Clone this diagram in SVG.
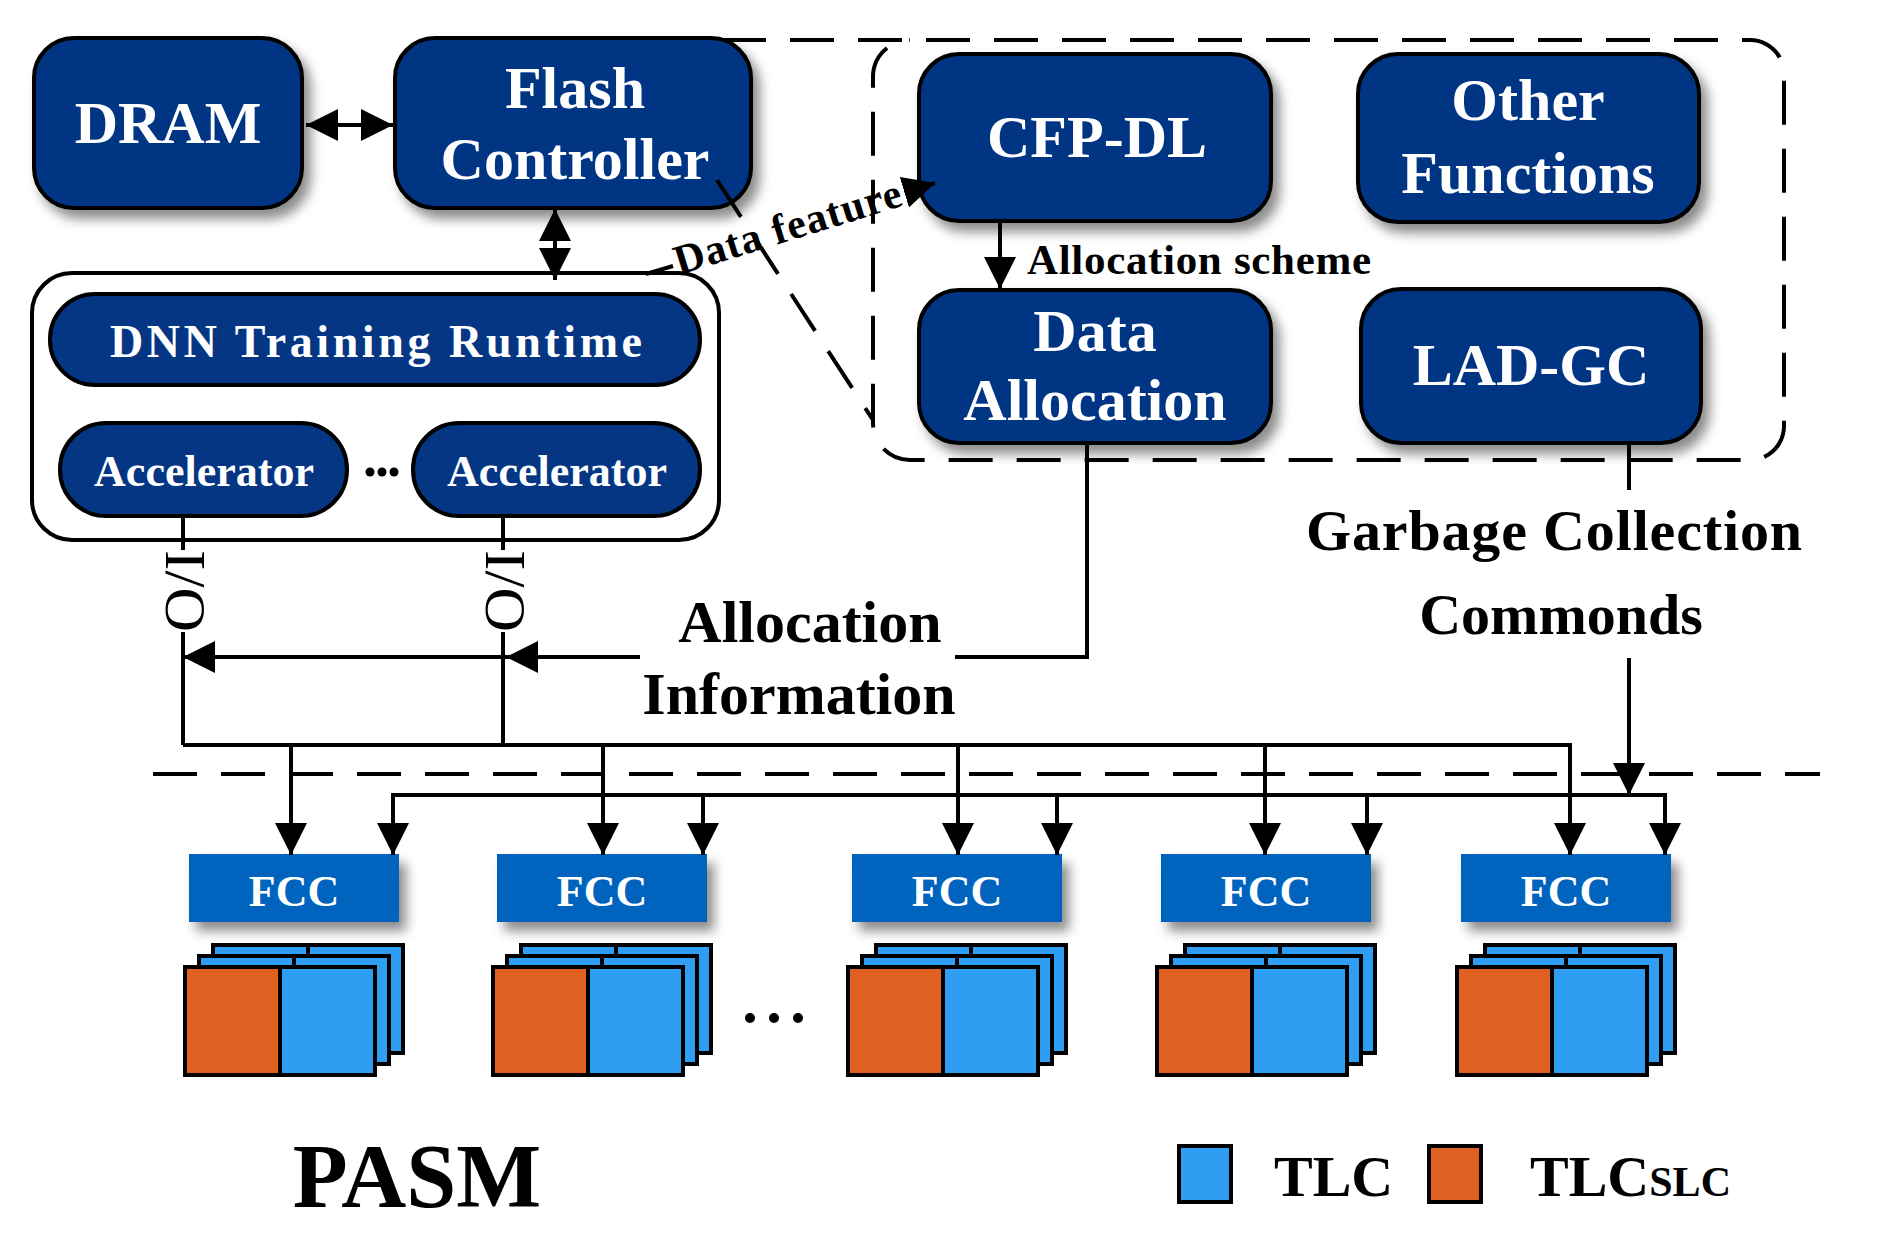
<svg xmlns="http://www.w3.org/2000/svg" width="1896" height="1250" viewBox="0 0 1896 1250">
<defs>
<filter id="sh" x="-20%" y="-20%" width="150%" height="170%"><feDropShadow dx="7" dy="9" stdDeviation="6" flood-color="#000" flood-opacity="0.45"/></filter>
<marker id="ah" markerUnits="userSpaceOnUse" markerWidth="32" markerHeight="32" viewBox="0 0 32 32" refX="32" refY="16" orient="auto-start-reverse"><path d="M0,0 L32,16 L0,32 z" fill="#000"/></marker>
</defs>
<style>
.nv{fill:#043684;stroke:#000;stroke-width:4}
.t{font-family:"Liberation Serif","Times New Roman",serif;font-weight:bold}
.w{fill:#fff}
.big{font-size:60px}
.ln{fill:none;stroke:#000;stroke-width:4}
.arr{marker-end:url(#ah)}
.arr2{marker-start:url(#ah);marker-end:url(#ah)}
.dash{fill:none;stroke:#000;stroke-width:4;stroke-dasharray:44 24}
.fcc{fill:#0563BE}
.bl{fill:#2E9DF2;stroke:#000;stroke-width:4}
.or{fill:#E06022;stroke:#000;stroke-width:4}
</style>
<rect width="1896" height="1250" fill="#fff"/>

<g id="dram"><rect class="nv" x="34" y="38" width="268" height="170" rx="40" filter="url(#sh)"/><text class="t w big" x="168" y="143" text-anchor="middle">DRAM</text></g>
<g id="flash-controller"><rect class="nv" x="395" y="38" width="356" height="170" rx="40" filter="url(#sh)"/><text class="t w big" x="575" y="108" text-anchor="middle">Flash</text><text class="t w big" x="575" y="179" text-anchor="middle">Controller</text></g>

<g id="runtime-container"><rect x="32" y="273" width="687" height="267" rx="40" fill="#fff" stroke="#000" stroke-width="4"/></g>
<g id="dnn-runtime"><rect class="nv" x="50" y="294" width="650" height="91" rx="45"/><text class="t w" font-size="46" x="376" y="357" text-anchor="middle" textLength="532" lengthAdjust="spacing">DNN Training Runtime</text></g>
<g id="accelerator1"><rect class="nv" x="60" y="423" width="287" height="93" rx="46"/><text class="t w" font-size="44" x="204" y="486" text-anchor="middle">Accelerator</text></g>
<g id="acc-dots"><circle cx="370" cy="472" r="4.5"/><circle cx="382" cy="472" r="4.5"/><circle cx="394" cy="472" r="4.5"/></g>
<g id="accelerator2"><rect class="nv" x="413" y="423" width="287" height="93" rx="46"/><text class="t w" font-size="44" x="557" y="486" text-anchor="middle">Accelerator</text></g>

<g id="cfp-dl"><rect class="nv" x="919" y="54" width="352" height="167" rx="40" filter="url(#sh)"/><text class="t w big" x="1097" y="157" text-anchor="middle">CFP-DL</text></g>
<g id="other-functions"><rect class="nv" x="1358" y="54" width="341" height="168" rx="40" filter="url(#sh)"/><text class="t w big" x="1528" y="120" text-anchor="middle">Other</text><text class="t w big" x="1528" y="193" text-anchor="middle">Functions</text></g>
<g id="data-allocation"><rect class="nv" x="919" y="290" width="352" height="153" rx="40" filter="url(#sh)"/><text class="t w big" x="1095" y="351" text-anchor="middle">Data</text><text class="t w big" x="1095" y="420" text-anchor="middle">Allocation</text></g>
<g id="lad-gc"><rect class="nv" x="1361" y="289" width="340" height="154" rx="40" filter="url(#sh)"/><text class="t w big" x="1531" y="385" text-anchor="middle">LAD-GC</text></g>

<g id="callout">
<path class="dash" d="M722 40 H1750 A34 34 0 0 1 1784 74 V426 A34 34 0 0 1 1750 460 H910 A37 37 0 0 1 873 423 V77 A37 37 0 0 1 910 40"/>
<path class="dash" d="M717 180 L873 420"/>
<path class="dash" d="M153 774 H1820"/>
</g>

<g id="fcc1"><rect class="fcc" x="189" y="854" width="210" height="68" filter="url(#sh)"/><text class="t w" font-size="44" x="294" y="906" text-anchor="middle">FCC</text></g>
<g id="fcc2"><rect class="fcc" x="497" y="854" width="210" height="68" filter="url(#sh)"/><text class="t w" font-size="44" x="602" y="906" text-anchor="middle">FCC</text></g>
<g id="fcc3"><rect class="fcc" x="852" y="854" width="210" height="68" filter="url(#sh)"/><text class="t w" font-size="44" x="957" y="906" text-anchor="middle">FCC</text></g>
<g id="fcc4"><rect class="fcc" x="1161" y="854" width="210" height="68" filter="url(#sh)"/><text class="t w" font-size="44" x="1266" y="906" text-anchor="middle">FCC</text></g>
<g id="fcc5"><rect class="fcc" x="1461" y="854" width="210" height="68" filter="url(#sh)"/><text class="t w" font-size="44" x="1566" y="906" text-anchor="middle">FCC</text></g>

<g id="chips1"><rect class="bl" x="213" y="945" width="190" height="108"/><path class="ln" d="M308 945 V967"/><rect class="bl" x="199" y="956" width="190" height="108"/><path class="ln" d="M294 956 V967"/><rect class="or" x="185" y="967" width="95" height="108"/><rect class="bl" x="280" y="967" width="95" height="108"/></g>
<g id="chips2"><rect class="bl" x="521" y="945" width="190" height="108"/><path class="ln" d="M616 945 V967"/><rect class="bl" x="507" y="956" width="190" height="108"/><path class="ln" d="M602 956 V967"/><rect class="or" x="493" y="967" width="95" height="108"/><rect class="bl" x="588" y="967" width="95" height="108"/></g>
<g id="chips-dots"><circle cx="750" cy="1018" r="5"/><circle cx="774" cy="1018" r="5"/><circle cx="798" cy="1018" r="5"/></g>
<g id="chips3"><rect class="bl" x="876" y="945" width="190" height="108"/><path class="ln" d="M971 945 V967"/><rect class="bl" x="862" y="956" width="190" height="108"/><path class="ln" d="M957 956 V967"/><rect class="or" x="848" y="967" width="95" height="108"/><rect class="bl" x="943" y="967" width="95" height="108"/></g>
<g id="chips4"><rect class="bl" x="1185" y="945" width="190" height="108"/><path class="ln" d="M1280 945 V967"/><rect class="bl" x="1171" y="956" width="190" height="108"/><path class="ln" d="M1266 956 V967"/><rect class="or" x="1157" y="967" width="95" height="108"/><rect class="bl" x="1252" y="967" width="95" height="108"/></g>
<g id="chips5"><rect class="bl" x="1485" y="945" width="190" height="108"/><path class="ln" d="M1580 945 V967"/><rect class="bl" x="1471" y="956" width="190" height="108"/><path class="ln" d="M1566 956 V967"/><rect class="or" x="1457" y="967" width="95" height="108"/><rect class="bl" x="1552" y="967" width="95" height="108"/></g>

<g id="connectors">
<path class="ln arr2" d="M306 125 H393"/>
<path class="ln arr2" d="M555 209 V280"/>
<path class="ln" d="M646 274 L673 266"/>
<path class="ln arr" d="M905 192 L935 183"/>
<text class="t" font-size="42" transform="translate(679 275) rotate(-17.2)" textLength="236" lengthAdjust="spacing">Data feature</text>
<path class="ln arr" d="M1000 221 V289"/>
<text class="t" font-size="43" x="1027" y="274" textLength="344" lengthAdjust="spacing">Allocation scheme</text>
<path class="ln" d="M183 516 V550 M183 632 V745 M503 516 V550 M503 632 V745"/>
<text font-family="Liberation Serif, Times New Roman, serif" font-size="56" transform="translate(166 550) rotate(90)" textLength="82" lengthAdjust="spacingAndGlyphs">I/O</text>
<text font-family="Liberation Serif, Times New Roman, serif" font-size="56" transform="translate(486 550) rotate(90)" textLength="82" lengthAdjust="spacingAndGlyphs">I/O</text>
<path class="ln" d="M1087 443 V657 H955"/>
<path class="ln arr" d="M640 657 H506"/>
<path class="ln arr" d="M506 657 H183"/>
<text class="t big" x="810" y="642" text-anchor="middle">Allocation</text>
<text class="t big" x="799" y="714" text-anchor="middle">Information</text>
<path class="ln" d="M1629 443 V490"/>
<text class="t" font-size="58" x="1306" y="550" textLength="496" lengthAdjust="spacing">Garbage Collection</text>
<text class="t" font-size="58" x="1561" y="634" text-anchor="middle">Commonds</text>
<path class="ln arr" d="M1629 658 V795"/>
<path class="ln arr" d="M183 745 H1570 V855"/>
<path class="ln arr" d="M291 745 V855"/>
<path class="ln arr" d="M603 745 V855"/>
<path class="ln arr" d="M958 745 V855"/>
<path class="ln arr" d="M1265 745 V855"/>
<path class="ln arr2" d="M393 855 V795 H1665 V855"/>
<path class="ln arr" d="M703 795 V855"/>
<path class="ln arr" d="M1057 795 V855"/>
<path class="ln arr" d="M1367 795 V855"/>
</g>

<text class="t" font-size="90" x="417" y="1207" text-anchor="middle">PASM</text>
<g id="legend">
<rect class="bl" x="1179" y="1146" width="52" height="56"/>
<text class="t" font-size="58" x="1274" y="1196">TLC</text>
<rect class="or" x="1429" y="1146" width="52" height="56"/>
<text class="t" font-size="58" x="1530" y="1196">TLC<tspan font-size="42">SLC</tspan></text>
</g>
</svg>
